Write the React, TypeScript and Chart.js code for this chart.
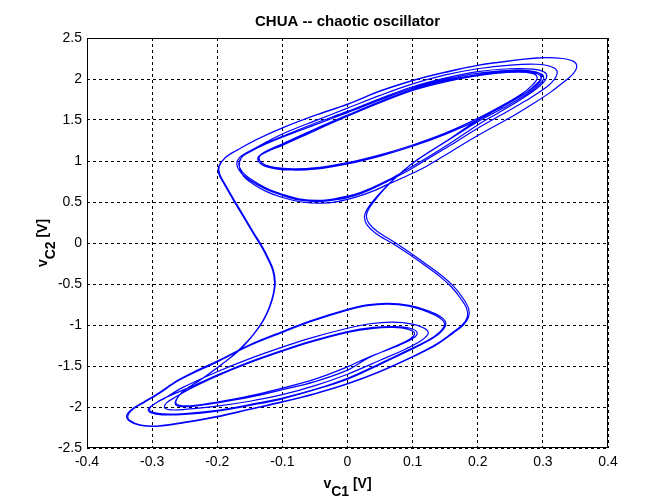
import React, { useEffect, useRef } from "react";
import { Chart, registerables } from "chart.js";

Chart.register(...registerables);

const titleText = "CHUA -- chaotic oscillator";
const xTicks = [-0.4, -0.3, -0.2, -0.1, 0, 0.1, 0.2, 0.3, 0.4];
const yTicks = [-2.5, -2, -1.5, -1, -0.5, 0, 0.5, 1, 1.5, 2, 2.5];

type P = [number, number];

// trajectory segments [vC1, vC2]
const upperStart: P[] = [
  [-0.138, 0.99], [-0.135, 1.06], [-0.122, 1.12], [-0.1, 1.19], [-0.05, 1.37], [0, 1.545], [0.05, 1.71], [0.1, 1.86],
  [0.15, 1.965], [0.2, 2.04], [0.245, 2.08], [0.278, 2.08], [0.295, 2.05], [0.297, 1.99], [0.288, 1.91], [0.27, 1.81],
  [0.24, 1.67], [0.2, 1.5], [0.155, 1.26], [0.108, 1.02], [0.08, 0.84], [0.058, 0.67], [0.043, 0.53], [0.033, 0.42],
];
const rightS1: P[] = [
  [0.029, 0.33], [0.033, 0.24], [0.046, 0.14], [0.074, 0.0], [0.1, -0.14], [0.123, -0.27], [0.145, -0.4], [0.163, -0.53],
  [0.177, -0.67], [0.186, -0.8], [0.186, -0.9], [0.178, -1.0], [0.162, -1.1], [0.135, -1.25], [0.1, -1.39], [0.05, -1.57],
  [0, -1.72], [-0.05, -1.84], [-0.1, -1.94], [-0.15, -2.03], [-0.2, -2.12], [-0.25, -2.19], [-0.29, -2.235],
  [-0.318, -2.225], [-0.335, -2.17], [-0.339, -2.1], [-0.33, -2.02], [-0.313, -1.94],
];
const lowerLoop1: P[] = [
  [-0.29, -1.83], [-0.262, -1.68], [-0.23, -1.55], [-0.2, -1.44], [-0.15, -1.24], [-0.1, -1.08], [-0.057, -0.95], [0, -0.81],
  [0.03, -0.755], [0.061, -0.735], [0.095, -0.76], [0.125, -0.83], [0.145, -0.91], [0.151, -0.99], [0.143, -1.09],
  [0.125, -1.19], [0.09, -1.33], [0.05, -1.48], [0, -1.66], [-0.05, -1.79], [-0.1, -1.9], [-0.15, -1.98], [-0.2, -2.05],
  [-0.25, -2.09], [-0.285, -2.095], [-0.302, -2.07], [-0.306, -2.03], [-0.298, -1.97], [-0.28, -1.89],
];
const lowerLoop2: P[] = [
  [-0.255, -1.77], [-0.2, -1.57], [-0.15, -1.41], [-0.1, -1.27], [-0.057, -1.16], [0, -1.04], [0.034, -0.985], [0.07, -0.965],
  [0.1, -0.99], [0.118, -1.04], [0.124, -1.1], [0.115, -1.18], [0.09, -1.29], [0.05, -1.43], [0, -1.6], [-0.05, -1.74],
  [-0.1, -1.85], [-0.15, -1.93], [-0.2, -1.99], [-0.25, -2.03], [-0.272, -2.035], [-0.281, -2.01], [-0.278, -1.95],
  [-0.262, -1.87],
];
const lowerLoop3: P[] = [
  [-0.24, -1.77], [-0.2, -1.62], [-0.15, -1.46], [-0.1, -1.32], [-0.057, -1.21], [0, -1.09], [0.04, -1.04], [0.07, -1.03],
  [0.092, -1.05], [0.103, -1.1], [0.096, -1.17], [0.07, -1.27], [0.03, -1.41], [0, -1.55], [-0.05, -1.69], [-0.1, -1.79],
  [-0.15, -1.88], [-0.2, -1.95], [-0.235, -1.99], [-0.255, -1.995], [-0.264, -1.97], [-0.263, -1.91], [-0.255, -1.83],
];
const leftS1: P[] = [
  [-0.242, -1.75], [-0.226, -1.67], [-0.2, -1.52], [-0.18, -1.4], [-0.165, -1.29], [-0.145, -1.12], [-0.13, -0.95],
  [-0.12, -0.78], [-0.114, -0.62], [-0.112, -0.48], [-0.115, -0.33], [-0.122, -0.2], [-0.131, -0.06], [-0.145, 0.12],
  [-0.16, 0.32], [-0.175, 0.52], [-0.188, 0.7], [-0.197, 0.83], [-0.198, 0.93],
];
const upperLoop1: P[] = [
  [-0.188, 1.04], [-0.17, 1.13], [-0.14, 1.26], [-0.098, 1.41], [-0.05, 1.555], [0, 1.69], [0.05, 1.85], [0.1, 1.98],
  [0.15, 2.08], [0.2, 2.165], [0.25, 2.22], [0.3, 2.26], [0.33, 2.25], [0.347, 2.215], [0.352, 2.15], [0.346, 2.06],
  [0.333, 1.97], [0.312, 1.84], [0.285, 1.7], [0.25, 1.53], [0.2, 1.31], [0.16, 1.12], [0.12, 0.93], [0.09, 0.815],
  [0.066, 0.73], [0.04, 0.635], [0.015, 0.565], [-0.015, 0.505], [-0.042, 0.485], [-0.07, 0.5], [-0.1, 0.555],
  [-0.125, 0.63], [-0.145, 0.72], [-0.16, 0.82], [-0.166, 0.93],
];
const upperLoop2: P[] = [
  [-0.163, 1.04], [-0.15, 1.12], [-0.125, 1.23], [-0.1, 1.33], [-0.05, 1.49], [0, 1.645], [0.05, 1.8], [0.1, 1.94],
  [0.15, 2.05], [0.2, 2.125], [0.25, 2.17], [0.29, 2.18], [0.313, 2.15], [0.322, 2.09], [0.317, 1.99], [0.302, 1.88],
  [0.275, 1.74], [0.24, 1.58], [0.2, 1.4], [0.16, 1.2], [0.12, 1.01], [0.09, 0.87], [0.062, 0.755], [0.035, 0.65],
  [0.01, 0.575], [-0.02, 0.525], [-0.045, 0.505], [-0.075, 0.525], [-0.1, 0.58], [-0.125, 0.655], [-0.148, 0.755],
  [-0.164, 0.86], [-0.17, 0.96],
];
const upperLoop3: P[] = [
  [-0.166, 1.04], [-0.153, 1.11], [-0.128, 1.21], [-0.1, 1.3], [-0.05, 1.46], [0, 1.605], [0.05, 1.76], [0.1, 1.905],
  [0.15, 2.01], [0.2, 2.09], [0.25, 2.125], [0.285, 2.12], [0.302, 2.085], [0.306, 2.03], [0.3, 1.95], [0.285, 1.85],
  [0.26, 1.72], [0.23, 1.58], [0.2, 1.44], [0.16, 1.23], [0.12, 1.03], [0.09, 0.89], [0.063, 0.77], [0.035, 0.665],
  [0.01, 0.59], [-0.02, 0.54], [-0.045, 0.52], [-0.075, 0.54], [-0.1, 0.595], [-0.125, 0.67], [-0.147, 0.77],
  [-0.162, 0.87], [-0.167, 0.965],
];
const upperLoop4: P[] = [
  [-0.162, 1.05], [-0.15, 1.11], [-0.128, 1.2], [-0.1, 1.29], [-0.05, 1.44], [0, 1.59], [0.05, 1.745], [0.1, 1.89],
  [0.15, 1.995], [0.2, 2.07], [0.25, 2.105], [0.28, 2.1], [0.295, 2.07], [0.298, 2.02], [0.29, 1.94], [0.275, 1.84],
  [0.25, 1.72], [0.2, 1.5], [0.15, 1.325], [0.1, 1.18], [0.05, 1.06], [0, 0.965], [-0.05, 0.9], [-0.085, 0.89],
  [-0.11, 0.905], [-0.128, 0.94], [-0.137, 1.0],
];
const upperLoop5: P[] = [
  [-0.136, 1.06], [-0.124, 1.12], [-0.1, 1.2], [-0.05, 1.38], [0, 1.55], [0.05, 1.715], [0.1, 1.865], [0.15, 1.97],
  [0.2, 2.045], [0.245, 2.085], [0.275, 2.08], [0.289, 2.05], [0.291, 2.0], [0.283, 1.92], [0.268, 1.82], [0.245, 1.71],
  [0.2, 1.52], [0.15, 1.34], [0.1, 1.195], [0.05, 1.075], [0, 0.98], [-0.05, 0.915], [-0.085, 0.905], [-0.11, 0.92],
  [-0.127, 0.955], [-0.135, 1.01],
];
const upperEnd: P[] = [
  [-0.134, 1.07], [-0.122, 1.13], [-0.1, 1.21], [-0.05, 1.39], [0, 1.56], [0.05, 1.725], [0.1, 1.875], [0.15, 1.98],
  [0.2, 2.055], [0.25, 2.095], [0.283, 2.09], [0.299, 2.055], [0.301, 2.0], [0.293, 1.92], [0.276, 1.82], [0.245, 1.67],
  [0.2, 1.48], [0.152, 1.24], [0.105, 1.0], [0.078, 0.83], [0.056, 0.66], [0.04, 0.52], [0.03, 0.41],
];
const rightS2: P[] = [
  [0.026, 0.32], [0.03, 0.22], [0.043, 0.12], [0.07, -0.01], [0.097, -0.15], [0.12, -0.28], [0.142, -0.41], [0.16, -0.54],
  [0.174, -0.68], [0.183, -0.8], [0.184, -0.9], [0.176, -1.0], [0.16, -1.1], [0.134, -1.245], [0.1, -1.385],
  [0.05, -1.565], [0, -1.715], [-0.05, -1.835], [-0.1, -1.935], [-0.15, -2.025], [-0.2, -2.115], [-0.25, -2.185],
  [-0.29, -2.23], [-0.317, -2.22], [-0.334, -2.165], [-0.337, -2.1], [-0.328, -2.02], [-0.311, -1.94],
];
const lowerLoop4: P[] = [
  [-0.288, -1.83], [-0.26, -1.68], [-0.2, -1.45], [-0.15, -1.25], [-0.1, -1.09], [-0.057, -0.96], [0, -0.82], [0.03, -0.765],
  [0.061, -0.745], [0.094, -0.77], [0.123, -0.84], [0.143, -0.92], [0.149, -0.995], [0.141, -1.09], [0.123, -1.19],
  [0.088, -1.325], [0.05, -1.47], [0, -1.65], [-0.05, -1.785], [-0.1, -1.89], [-0.15, -1.97], [-0.2, -2.04], [-0.25, -2.08],
  [-0.284, -2.085], [-0.301, -2.06], [-0.304, -2.02], [-0.296, -1.96], [-0.278, -1.88],
];
const lowerLoop5: P[] = [
  [-0.245, -1.77], [-0.2, -1.61], [-0.15, -1.45], [-0.1, -1.31], [-0.057, -1.2], [0, -1.08], [0.04, -1.03], [0.073, -1.02],
  [0.096, -1.04], [0.107, -1.095], [0.1, -1.165], [0.074, -1.265], [0.033, -1.39], [0, -1.51], [-0.05, -1.66], [-0.1, -1.77],
  [-0.15, -1.865], [-0.2, -1.94], [-0.234, -1.98], [-0.254, -1.985], [-0.263, -1.96], [-0.262, -1.9], [-0.254, -1.82],
];
const leftS2: P[] = [
  [-0.24, -1.74], [-0.224, -1.66], [-0.199, -1.515], [-0.179, -1.395], [-0.163, -1.285], [-0.144, -1.115], [-0.129, -0.945],
  [-0.119, -0.775], [-0.113, -0.615], [-0.111, -0.475], [-0.114, -0.325], [-0.121, -0.195], [-0.13, -0.055], [-0.144, 0.125],
  [-0.159, 0.325], [-0.174, 0.525], [-0.187, 0.705], [-0.196, 0.835], [-0.197, 0.935],
];
const upperTail: P[] = [
  [-0.187, 1.045], [-0.169, 1.135], [-0.139, 1.265], [-0.097, 1.415], [-0.05, 1.558], [0, 1.695], [0.05, 1.855], [0.1, 1.985],
  [0.15, 2.085], [0.2, 2.168], [0.25, 2.222], [0.3, 2.261], [0.325, 2.256],
];

const trajectory: P[] = [
  ...upperStart, ...rightS1, ...lowerLoop1, ...lowerLoop2, ...lowerLoop3, ...leftS1,
  ...upperLoop1, ...upperLoop2, ...upperLoop3, ...upperLoop4, ...upperLoop5, ...upperEnd,
  ...rightS2, ...lowerLoop4, ...lowerLoop5, ...leftS2, ...upperTail,
];

const FONT = '"Liberation Sans", Arial, Helvetica, sans-serif';

const decorPlugin = {
  id: "decor",
  afterDatasetsDraw(chart: any) {
    const { ctx, chartArea: a } = chart;
    ctx.save();
    ctx.setLineDash([]);
    ctx.strokeStyle = "#000";
    ctx.lineWidth = 1;
    ctx.strokeRect(a.left + 0.5, a.top + 0.5, a.right - a.left - 1, a.bottom - a.top - 1);
    ctx.restore();
  },
  afterDraw(chart: any) {
    const { ctx, chartArea: a } = chart;
    const cx = (a.left + a.right) / 2;
    const cy = (a.top + a.bottom) / 2;
    ctx.save();
    ctx.fillStyle = "#000";
    ctx.textBaseline = "alphabetic";
    ctx.font = `bold 15px ${FONT}`;
    ctx.textAlign = "center";
    ctx.fillText(titleText, cx, 26);

    ctx.font = `bold 14px ${FONT}`;
    ctx.textAlign = "left";
    const drawLabel = (sub: string, x0: number, base: number) => {
      const wv = ctx.measureText("v").width;
      const ws = ctx.measureText(sub).width;
      const wr = ctx.measureText(" [V]").width;
      const total = wv + ws + wr;
      let x = x0 - total / 2;
      ctx.fillText("v", x, base);
      x += wv;
      ctx.fillText(sub, x, base + 8);
      x += ws;
      ctx.fillText(" [V]", x, base);
    };
    drawLabel("C1", cx, 488);
    ctx.translate(47, cy);
    ctx.rotate(-Math.PI / 2);
    drawLabel("C2", 0, 0);
    ctx.restore();
  },
};

export default function App() {
  const ref = useRef<HTMLCanvasElement | null>(null);
  useEffect(() => {
    if (!ref.current) return;
    const chart = new Chart(ref.current, {
      type: "scatter",
      data: {
        datasets: [
          {
            data: trajectory.map(([x, y]) => ({ x, y })),
            showLine: true,
            borderColor: "#0000ff",
            borderWidth: 1.2,
            pointRadius: 0,
            tension: 0.35,
            fill: false,
          },
        ],
      },
      options: {
        animation: false,
        responsive: false,
        devicePixelRatio: 1,
        layout: { padding: { left: 47, right: 64, top: 38, bottom: 36 } },
        plugins: { legend: { display: false }, tooltip: { enabled: false }, title: { display: false } },
        scales: {
          x: {
            type: "linear",
            min: -0.4,
            max: 0.4,
            afterBuildTicks: (s: any) => { s.ticks = xTicks.map((v) => ({ value: v })); },
            afterFit: (s: any) => { s.height = 20; },
            ticks: { color: "#000", font: { family: FONT, size: 14 }, padding: 6, maxRotation: 0, autoSkip: false, callback: (v: any) => String(v) },
            grid: { color: "#000", lineWidth: 1, drawTicks: false },
            border: { display: false, dash: [3, 3] },
          },
          y: {
            type: "linear",
            min: -2.5,
            max: 2.5,
            afterBuildTicks: (s: any) => { s.ticks = yTicks.map((v) => ({ value: v })); },
            afterFit: (s: any) => { s.width = 40; },
            ticks: { color: "#000", font: { family: FONT, size: 14 }, padding: 5, autoSkip: false, callback: (v: any) => String(v) },
            grid: { color: "#000", lineWidth: 1, drawTicks: false },
            border: { display: false, dash: [3, 3] },
          },
        },
      },
      plugins: [decorPlugin],
    });
    return () => chart.destroy();
  }, []);
  return (
    <div style={{ position: "absolute", left: 0, top: 0, width: 672, height: 504, background: "#fff" }}>
      <canvas ref={ref} width={672} height={504} />
    </div>
  );
}
